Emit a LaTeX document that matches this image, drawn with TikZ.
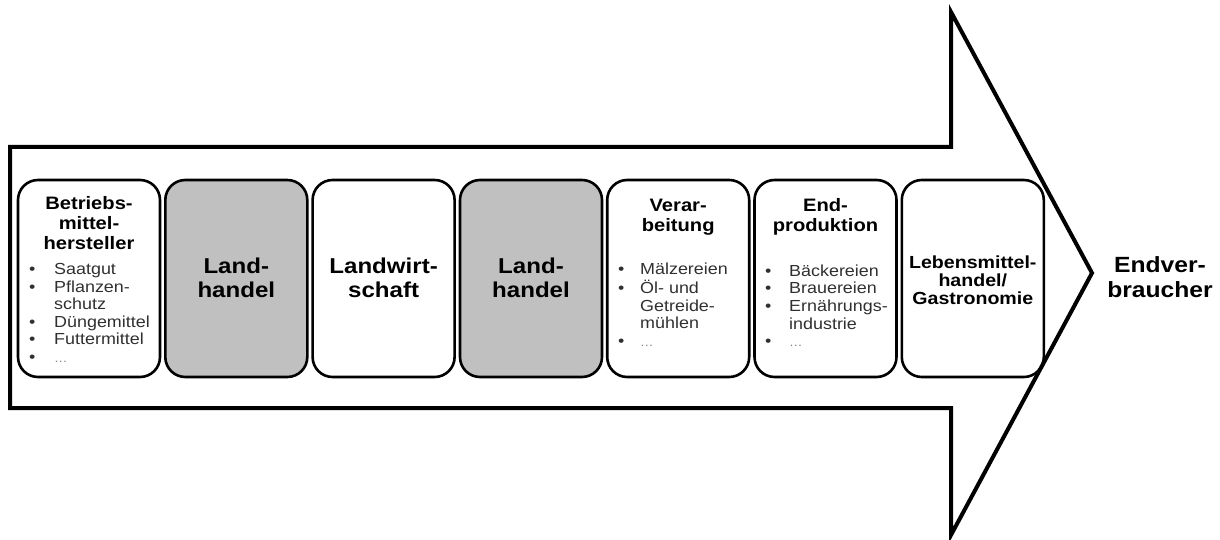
\documentclass[tikz,border=0pt]{standalone}
\usepackage{fontspec}
\setmainfont{Liberation Sans}[FakeStretch=1.12]
\definecolor{boxgray}{HTML}{C0C0C0}
\definecolor{listgray}{HTML}{303030}
\definecolor{dotgray}{HTML}{808080}
\newcommand\blt[1]{\makebox[#1][l]{\textbullet}}
\newcommand\moredots{{\color{dotgray}\fontsize{12}{14}\selectfont …}}
\begin{document}
\begin{tikzpicture}[x=1pt,y=-1pt,
 stagebox/.style={draw=black, line width=2.6pt, rounded corners=20pt, minimum width=142pt, minimum height=197pt, inner sep=0pt},
 grayfill/.style={fill=boxgray},
 headA/.style={font=\bfseries\fontsize{18}{20}\selectfont, align=center, inner sep=0pt},
 headB/.style={font=\bfseries\fontsize{21.5}{24}\selectfont, align=center, inner sep=0pt},
 listtxt/.style={font=\fontsize{16}{17.6}\selectfont, text=listgray, anchor=west, inner sep=0pt, align=left},
 bigarrow/.style={draw=black, line width=4pt, line join=miter, miter limit=20}
]
\useasboundingbox (0,0) rectangle (1220,540);
% big arrow
\draw[bigarrow] (10,147) -- (951,147) -- (951,12) -- (1092,273) -- (951,535) -- (951,408) -- (10,408) -- cycle;

% boxes
\node[stagebox] (b1) at (89,278.5) {};
\node[stagebox,grayfill] (b2) at (236.3,278.5) {};
\node[stagebox] (b3) at (383.6,278.5) {};
\node[stagebox,grayfill] (b4) at (531,278.5) {};
\node[stagebox] (b5) at (678.2,278.5) {};
\node[stagebox] (b6) at (825.5,278.5) {};
\node[stagebox] (b7) at (972.8,278.5) {};

% box 1
\node[headA] (h1) at (89,223) {Betriebs-\\mittel-\\hersteller};
\node[listtxt] (l1) at (29,315) {\begin{tabular}{@{}l@{}l@{}}
\blt{25pt}&Saatgut\\
\blt{25pt}&Pflanzen-\\
&schutz\\
\blt{25pt}&Düngemittel\\
\blt{25pt}&Futtermittel\\
\blt{25pt}&\moredots
\end{tabular}};

% box 2
\node[headB] (h2) at (236.3,278) {Land-\\handel};
% box 3
\node[headB] (h3) at (383.6,278) {Landwirt-\\schaft};
% box 4
\node[headB] (h4) at (531,278) {Land-\\handel};

% box 5
\node[headA] (h5) at (678.2,217) {Verar-\\beitung};
\node[listtxt] (l5) at (618,307) {\begin{tabular}{@{}l@{}l@{}}
\blt{22pt}&Mälzereien\\
\blt{22pt}&Öl- und\\
&Getreide-\\
&mühlen\\
\blt{22pt}&\moredots
\end{tabular}};

% box 6
\node[headA] (h6) at (825.5,217) {End-\\produktion};
\node[listtxt] (l6) at (765,308) {\begin{tabular}{@{}l@{}l@{}}
\blt{24pt}&Bäckereien\\
\blt{24pt}&Brauereien\\
\blt{24pt}&Ernährungs-\\
&industrie\\
\blt{24pt}&\moredots
\end{tabular}};

% box 7
\node[headA, font=\bfseries\fontsize{17.5}{18}\selectfont] (h7) at (972.8,280) {Lebensmittel-\\handel/\\Gastronomie};

% end consumer
\node[headA, font=\bfseries\fontsize{22}{25}\selectfont] (ev) at (1160,277) {Endver-\\braucher};
\end{tikzpicture}
\end{document}
